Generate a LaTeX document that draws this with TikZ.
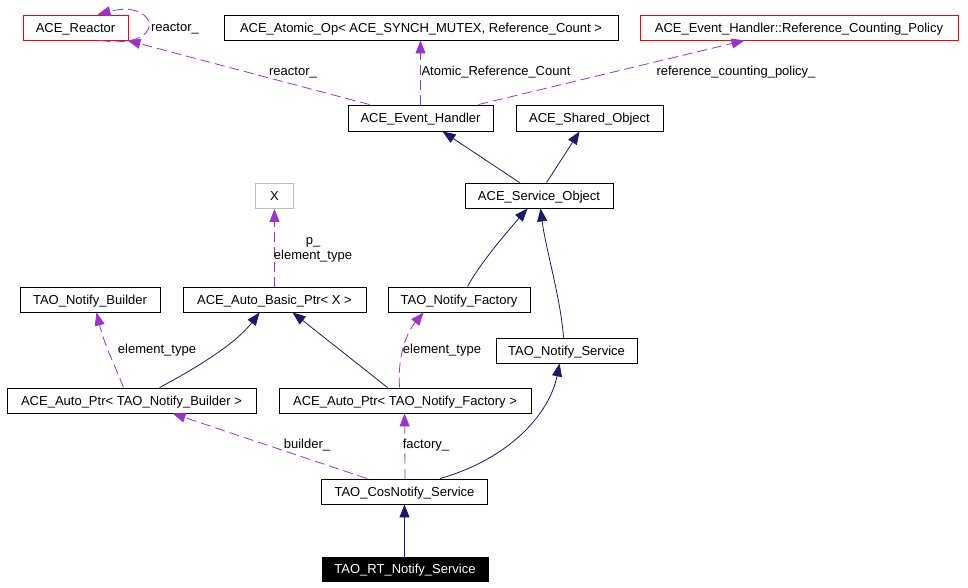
\documentclass[tikz,border=0pt]{standalone}
\usepackage{fontspec}
\setmainfont{Liberation Sans}
\usetikzlibrary{arrows.meta}
\definecolor{dep}{HTML}{9A32CD}
\definecolor{inh}{HTML}{191970}
\definecolor{lgray}{HTML}{BFBFBF}
\tikzset{
  cls/.style={draw=black, line width=0.9pt, inner sep=0pt, minimum height=25pt,
    text height=9.5pt, text depth=0pt, font=\fontsize{13}{15}\selectfont, fill=white},
  redcls/.style={cls, draw=red},
  graycls/.style={cls, draw=lgray},
  blackcls/.style={cls, fill=black, text=white},
  lbl/.style={inner sep=0pt, anchor=base, font=\fontsize{13}{15}\selectfont},
  deparrow/.style={draw=dep, line width=0.8pt, dash pattern=on 10pt off 5pt,
    -{Triangle[length=13pt,width=10pt]}},
  inharrow/.style={draw=inh, line width=0.8pt, -{Triangle[length=13pt,width=10pt]}},
}
\begin{document}
\begin{tikzpicture}[x=1pt,y=-1pt]
\useasboundingbox[fill=white] (0,0) rectangle (968,588);

% nodes
\node[redcls, minimum width=105pt] (reactor) at (75.5,27.5) {ACE\_Reactor};
\node[cls, minimum width=394pt] (atomic) at (421,27.5) {ACE\_Atomic\_Op< ACE\_SYNCH\_MUTEX, Reference\_Count >};
\node[redcls, minimum width=318pt] (rcp) at (799,27.5) {ACE\_Event\_Handler::Reference\_Counting\_Policy};
\node[cls, minimum width=145pt, minimum height=26pt] (eh) at (420.5,118) {ACE\_Event\_Handler};
\node[cls, minimum width=147pt, minimum height=26pt] (shared) at (589.5,118) {ACE\_Shared\_Object};
\node[graycls, minimum width=38pt] (x) at (274.5,196) {X};
\node[cls, minimum width=148pt] (so) at (539,195.5) {ACE\_Service\_Object};
\node[cls, minimum width=140pt] (builder) at (90,299.5) {TAO\_Notify\_Builder};
\node[cls, minimum width=183pt] (basic) at (274.5,299.5) {ACE\_Auto\_Basic\_Ptr< X >};
\node[cls, minimum width=142pt] (factory) at (459,299.5) {TAO\_Notify\_Factory};
\node[cls, minimum width=141pt] (ns) at (566.5,350.5) {TAO\_Notify\_Service};
\node[cls, minimum width=249pt] (apb) at (131.5,400.5) {ACE\_Auto\_Ptr< TAO\_Notify\_Builder >};
\node[cls, minimum width=252pt] (apf) at (405,400.5) {ACE\_Auto\_Ptr< TAO\_Notify\_Factory >};
\node[cls, minimum width=166pt] (cos) at (404.5,491.5) {TAO\_CosNotify\_Service};
\node[blackcls, minimum width=166pt, minimum height=24pt] (rt) at (405,569) {TAO\_RT\_Notify\_Service};

% dependency (usage) edges
\draw[deparrow] ([xshift=-28pt]reactor.south east) .. controls +(68,10) and +(62,-16) .. ([xshift=-31pt]reactor.north east);
\draw[deparrow] ([xshift=22pt]eh.north west) -- ([xshift=-1pt]reactor.south east);
\draw[deparrow] (eh.north) -- (eh.north |- atomic.south);
\draw[deparrow] ([xshift=-15pt]eh.north east) -- ([xshift=105pt]rcp.south west);
\draw[deparrow] (basic.north) -- (basic.north |- x.south);
\draw[deparrow] ([xshift=117pt]apb.north west) .. controls +(-9,-23) and +(8,33) .. ([xshift=77pt]builder.south west);
\draw[deparrow] ([xshift=121pt]apf.north west) .. controls +(-2,-28) and +(-19,23) .. ([xshift=36pt]factory.south west);
\draw[deparrow] ([xshift=46pt]cos.north west) -- ([xshift=166pt]apb.south west);
\draw[deparrow] ([xshift=84pt]cos.north west) -- ([xshift=126pt]apf.south west);

% inheritance edges
\draw[inharrow] ([xshift=55pt]so.north west) -- ([xshift=95pt]eh.south west);
\draw[inharrow] ([xshift=82pt]so.north west) -- ([xshift=64pt]shared.south west);
\draw[inharrow] ([xshift=80pt]factory.north west) .. controls +(10,-19) and +(-28,32) .. ([xshift=63pt]so.south west);
\draw[inharrow] ([xshift=68pt]ns.north west) .. controls +(-3,-40) and +(5,40) .. ([xshift=76pt]so.south west);
\draw[inharrow] ([xshift=153pt]apb.north west) .. controls +(30,-16) and +(-25,33) .. ([xshift=77pt]basic.south west);
\draw[inharrow] ([xshift=109pt]apf.north west) -- ([xshift=110pt]basic.south west);
\draw[inharrow] ([xshift=119pt]cos.north west) .. controls +(70,-20) and +(-10,50) .. ([xshift=64pt]ns.south west);
\draw[inharrow] (rt.north -| cos.south) -- (cos.south);

% labels
\node[lbl] (l1) at (175,32) {reactor\_};
\node[lbl] (l2) at (293,76) {reactor\_};
\node[lbl] (l3) at (496,76) {Atomic\_Reference\_Count};
\node[lbl] (l4) at (736,76) {reference\_counting\_policy\_};
\node[lbl, align=center, anchor=base] (l5) at (313,259) {p\_\\element\_type};
\node[lbl] (l6) at (157,353) {element\_type};
\node[lbl] (l7) at (442,353) {element\_type};
\node[lbl] (l8) at (307,448) {builder\_};
\node[lbl] (l9) at (426,448) {factory\_};
\end{tikzpicture}
\end{document}
